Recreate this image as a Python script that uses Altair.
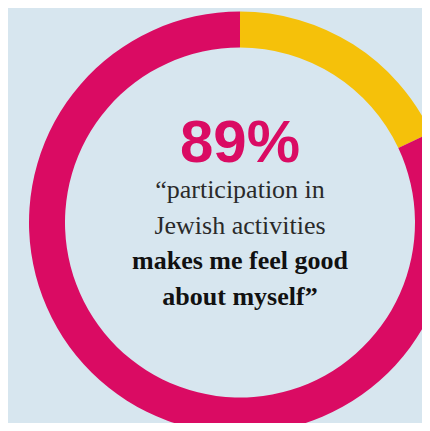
import altair as alt
import pandas as pd

# Data
categories = ["other", "feel good"]
shares = [18, 82]
colors = ["#f5c10a", "#da0b63"]
headline = "89%"
quote_light = ["\u201cparticipation in", "Jewish activities"]
quote_bold = ["makes me feel good", "about myself\u201d"]

ring = pd.DataFrame({"category": categories, "share": shares, "order": [0, 1]})

CX, CY = 232, 214.5

donut = alt.Chart(ring).mark_arc(outerRadius=211, innerRadius=175).encode(
    theta=alt.Theta("share:Q", stack=True),
    order=alt.Order("order:Q"),
    color=alt.Color("category:N", scale=alt.Scale(domain=categories, range=colors), legend=None),
    x=alt.value(CX),
    y=alt.value(CY),
)

head = alt.Chart(pd.DataFrame({"t": [headline]})).mark_text(
    font="Liberation Sans", fontWeight="bold", fontSize=60, color="#da0b63",
    align="center", baseline="alphabetic",
).encode(text="t:N", x=alt.value(CX), y=alt.value(154))

light = alt.Chart(pd.DataFrame({"t": ["\n".join(quote_light)]})).mark_text(
    font="Liberation Serif", fontWeight="normal", fontSize=26, color="#2a2a2a",
    align="center", baseline="alphabetic", lineBreak="\n", lineHeight=36,
).encode(text="t:N", x=alt.value(CX), y=alt.value(190))

bold = alt.Chart(pd.DataFrame({"t": ["\n".join(quote_bold)]})).mark_text(
    font="Liberation Serif", fontWeight="bold", fontSize=26, color="#111111",
    align="center", baseline="alphabetic", lineBreak="\n", lineHeight=36,
).encode(text="t:N", x=alt.value(CX), y=alt.value(261))

chart = alt.layer(donut, head, light, bold).properties(
    width=414, height=415, padding=0, background="#d7e6ef",
    autosize=alt.AutoSizeParams(type="none"),
).configure_view(stroke=None)

chart.save("out.html", embed_options={"renderer": "svg", "actions": False})
